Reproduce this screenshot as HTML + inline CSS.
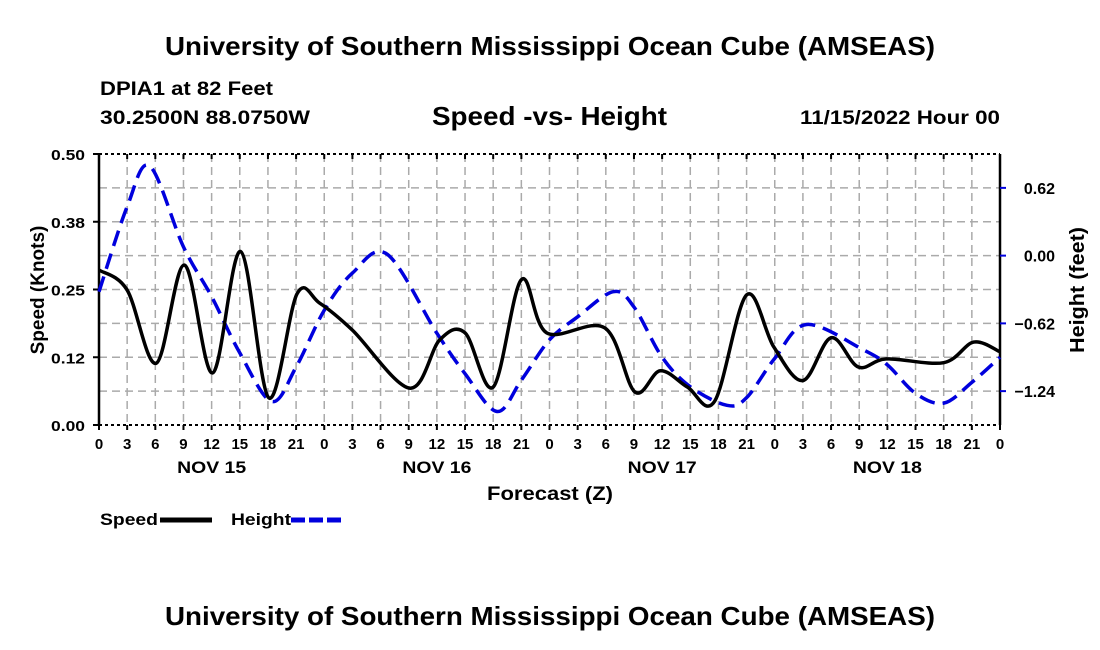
<!DOCTYPE html>
<html><head><meta charset="utf-8"><style>
body{margin:0;background:#fff;width:1100px;height:650px;overflow:hidden}
svg{display:block;font-family:"Liberation Sans",Arial,sans-serif;font-weight:bold}
</style></head><body>
<svg id="c" width="1100" height="650">
<text x="165" y="55" font-size="26" textLength="770" lengthAdjust="spacingAndGlyphs">University of Southern Mississippi Ocean Cube (AMSEAS)</text>
<text x="100" y="95" font-size="19" textLength="173" lengthAdjust="spacingAndGlyphs">DPIA1 at 82 Feet</text>
<text x="100" y="124" font-size="19" textLength="210" lengthAdjust="spacingAndGlyphs">30.2500N  88.0750W</text>
<text x="432" y="125" font-size="26" textLength="235" lengthAdjust="spacingAndGlyphs">Speed -vs- Height</text>
<text x="800" y="124" font-size="19" textLength="200" lengthAdjust="spacingAndGlyphs">11/15/2022 Hour 00</text>
<text x="487" y="500" font-size="19" textLength="126" lengthAdjust="spacingAndGlyphs">Forecast (Z)</text>
<text transform="translate(44,290) rotate(-90)" text-anchor="middle" font-size="19">Speed (Knots)</text>
<text transform="translate(1084,353) rotate(-90)" font-size="20" textLength="126" lengthAdjust="spacingAndGlyphs">Height (feet)</text>
<g>
<text x="100" y="525" font-size="17" textLength="58" lengthAdjust="spacingAndGlyphs">Speed</text>
<line x1="160" y1="520" x2="212" y2="520" stroke="#000" stroke-width="5"/>
<text x="231" y="525" font-size="17" textLength="60" lengthAdjust="spacingAndGlyphs">Height</text>
<line x1="291" y1="520" x2="343" y2="520" stroke="#0000dd" stroke-width="5" stroke-dasharray="14,4"/>
</g>
<text x="165" y="625" font-size="26" textLength="770" lengthAdjust="spacingAndGlyphs">University of Southern Mississippi Ocean Cube (AMSEAS)</text>
</svg>
<script>
const speedHours=[0,3,6.1,9.1,12.1,15.1,18.1,21.1,23.5,27,33.1,36.3,39,42,45,47.7,53.9,57.1,59.8,62.7,65.6,69,71.9,75,78,80.9,83.9,90,93.2,96];
const speedVals=[0.286,0.249,0.114,0.295,0.096,0.32,0.05,0.242,0.225,0.175,0.068,0.157,0.17,0.07,0.268,0.17,0.179,0.061,0.1,0.07,0.044,0.24,0.144,0.082,0.161,0.107,0.122,0.115,0.153,0.135];
const heightHours=[0,3,5.4,9,12,15,18.4,21,24,27,30.7,36,39,42.4,45,48,51,54.8,57,60,63,66.9,69,72,75.4,81.4,84,87,90,93,96];
const heightVals=[-0.33,0.448,0.82,0.08,-0.375,-0.89,-1.335,-1.02,-0.5,-0.16,0.013,-0.71,-1.08,-1.426,-1.14,-0.77,-0.56,-0.33,-0.47,-0.93,-1.2,-1.37,-1.3,-0.94,-0.63,-0.86,-1.0,-1.26,-1.35,-1.16,-0.93];
const hourTicks=[0,3,6,9,12,15,18,21,0,3,6,9,12,15,18,21,0,3,6,9,12,15,18,21,0,3,6,9,12,15,18,21,0];
const dayLabels=["NOV 15","NOV 16","NOV 17","NOV 18"];
const speedTicks=["0.00","0.12","0.25","0.38","0.50"];
const heightTicks=[0.62,0.00,-0.62,-1.24];
const L=99,R=1000,T=154,B=425;
const x=h=>L+(R-L)*h/96;
const yS=v=>B-(B-T)*v/0.5;
const yH=v=>T+(0.93-v)/2.48*(B-T);
const svg=document.getElementById('c');const NS='http://www.w3.org/2000/svg';
function mk(t,a,p){const e=document.createElementNS(NS,t);for(const k in a)e.setAttribute(k,a[k]);(p||svg).appendChild(e);return e;}
const grid=mk('g',{});


for(let i=1;i<32;i++){const l=mk('line',{x1:x(i*3),x2:x(i*3),y1:T,y2:B,stroke:'#aaa','stroke-width':1.5,'stroke-dasharray':'8,5'},grid);

}
for(let i=1;i<8;i++){const yy=T+i*(B-T)/8;const l=mk('line',{x1:L,x2:R,y1:yy,y2:yy,stroke:'#aaa','stroke-width':1.5,'stroke-dasharray':'8,5'},grid);

}
const ax=mk('g',{});


mk('line',{x1:L,x2:L,y1:T,y2:B,stroke:'#000','stroke-width':2.5},ax);
mk('line',{x1:R,x2:R,y1:T,y2:B,stroke:'#000','stroke-width':2.5},ax);
mk('line',{x1:L,x2:R,y1:T,y2:T,stroke:'#000','stroke-width':2,'stroke-dasharray':'3,3'},ax);
mk('line',{x1:L,x2:R,y1:B,y2:B,stroke:'#000','stroke-width':2,'stroke-dasharray':'3,3'},ax);
hourTicks.forEach((t,i)=>{const xx=x(i*3);mk('line',{x1:xx,x2:xx,y1:B,y2:B+5,stroke:'#000','stroke-width':2},ax);mk('line',{x1:xx,x2:xx,y1:T,y2:T+5,stroke:'#000','stroke-width':2},ax);
const tx=mk('text',{x:xx,y:B+24,'text-anchor':'middle','font-size':15},ax);tx.textContent=t;

});
dayLabels.forEach((d,i)=>{const tx=mk('text',{x:x(12+24*i),y:B+48,'text-anchor':'middle','font-size':17,textLength:69,lengthAdjust:'spacingAndGlyphs'},ax);tx.textContent=d;

});
speedTicks.forEach((s,i)=>{const yy=yS(i*0.125);mk('line',{x1:L-6,x2:L,y1:yy,y2:yy,stroke:'#000','stroke-width':2},ax);
const tx=mk('text',{x:L-14,y:yy+6,'text-anchor':'end','font-size':15,textLength:34,lengthAdjust:'spacingAndGlyphs'},ax);tx.textContent=s;

});
heightTicks.forEach(v=>{const yy=yH(v);mk('line',{x1:R,x2:R+6,y1:yy,y2:yy,stroke:'#0000dd','stroke-width':2},ax);
const tx=mk('text',{x:1055,y:yy+6,'text-anchor':'end','font-size':16},ax);tx.textContent=(v<0?'\u2212'+Math.abs(v).toFixed(2):v.toFixed(2));

});
function path(hs,vs,yf){const p=hs.map((h,i)=>[x(h),yf(vs[i])]);let d='M'+p[0][0]+','+p[0][1];
for(let i=0;i<p.length-1;i++){const p0=p[i-1]||p[i],p1=p[i],p2=p[i+1],p3=p[i+2]||p2;
const c1=[p1[0]+(p2[0]-p0[0])/6,p1[1]+(p2[1]-p0[1])/6],c2=[p2[0]-(p3[0]-p1[0])/6,p2[1]-(p3[1]-p1[1])/6];
d+=` C${c1[0]},${c1[1]} ${c2[0]},${c2[1]} ${p2[0]},${p2[1]}`;}return d;}
const hp=mk('path',{d:path(heightHours,heightVals,yH),fill:'none',stroke:'#0000dd','stroke-width':3.5,'stroke-dasharray':'16,8'});


const sp=mk('path',{d:path(speedHours,speedVals,yS),fill:'none',stroke:'#000','stroke-width':3.5});


</script>
</body></html>
